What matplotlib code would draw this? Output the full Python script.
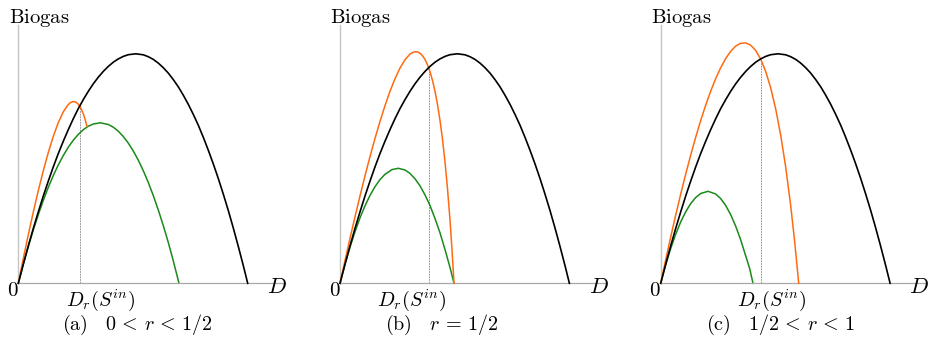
import matplotlib
matplotlib.use('Agg')
import matplotlib.pyplot as plt

plt.rcParams['mathtext.fontset'] = 'cm'

# black curve (same in all three panels)
black_D = [0, .05, .10, .15, .20, .25, .30, .35, .40, .45, .50, .55, .60, .65, .70, .75, .80, .85,
           .90, .95, 1.00, 1.05, 1.10, 1.175, 1.25, 1.30, 1.35, 1.40, 1.45, 1.50, 1.55, 1.60, 1.65,
           1.70, 1.75, 1.80, 1.85, 1.90, 1.95, 2.00, 2.05, 2.10, 2.15, 2.20, 2.25, 2.294]
black_G = [0, .191, .374, .549, .714, .873, 1.022, 1.164, 1.298, 1.421, 1.537, 1.646, 1.747, 1.837,
           1.920, 1.995, 2.061, 2.119, 2.169, 2.211, 2.244, 2.269, 2.286, 2.295, 2.285, 2.266, 2.239,
           2.202, 2.156, 2.102, 2.037, 1.965, 1.881, 1.790, 1.689, 1.581, 1.460, 1.331, 1.194,
           1.048, .892, .728, .553, .369, .177, 0]

# panel (a)
orange_a_D = [0, .05, .10, .15, .20, .25, .30, .35, .40, .45, .50, .525, .55, .575, .60, .625,
              .65, .67, .687]
orange_a_G = [0, .248, .486, .713, .927, 1.126, 1.308, 1.470, 1.607, 1.715, 1.788, 1.809, 1.817,
              1.812, 1.791, 1.753, 1.695, 1.633, 1.568]
green_a_D = [0, .05, .10, .15, .20, .25, .30, .35, .40, .45, .50, .55, .60, .65, .70, .75, .82,
             .90, .95, 1.00, 1.05, 1.10, 1.15, 1.20, 1.25, 1.30, 1.35, 1.40, 1.45, 1.50, 1.55, 1.607]
green_a_G = [0, .190, .368, .534, .687, .829, .960, 1.078, 1.184, 1.278, 1.361, 1.431, 1.489,
             1.536, 1.571, 1.593, 1.605, 1.588, 1.561, 1.521, 1.468, 1.402, 1.323, 1.231, 1.126,
             1.008, .877, .733, .577, .408, .224, 0]

# panel (b)
orange_b_D = [0, .05, .10, .15, .20, .25, .30, .35, .40, .45, .50, .55, .60, .65, .70, .725, .75,
              .775, .80, .825, .85, .875, .90, .925, .95, .975, 1.00, 1.025, 1.05, 1.075, 1.10,
              1.12, 1.14]
orange_b_G = [0, .228, .450, .665, .874, 1.075, 1.267, 1.448, 1.619, 1.777, 1.920, 2.046, 2.153,
              2.236, 2.292, 2.308, 2.316, 2.314, 2.301, 2.276, 2.238, 2.185, 2.116, 2.029, 1.920,
              1.788, 1.629, 1.440, 1.213, .946, .631, .336, 0]
green_b_D = [0, .05, .10, .15, .20, .25, .30, .35, .40, .45, .52, .583, .65, .70, .75, .80, .85,
             .90, .95, 1.00, 1.05, 1.10, 1.14]
green_b_G = [0, .189, .361, .516, .654, .775, .879, .966, 1.037, 1.090, 1.137, 1.150, 1.133, 1.099,
             1.045, .975, .884, .778, .648, .505, .338, .159, 0]

# panel (c)
orange_c_D = [0, .05, .10, .15, .20, .25, .30, .35, .40, .45, .50, .55, .60, .65, .70, .75, .80,
              .85, .90, .95, 1.00, 1.05, 1.10, 1.15, 1.20, 1.25, 1.30, 1.34, 1.38]
orange_c_G = [0, .235, .463, .682, .892, 1.092, 1.282, 1.461, 1.628, 1.782, 1.922, 2.047, 2.156,
              2.248, 2.320, 2.372, 2.400, 2.404, 2.381, 2.328, 2.242, 2.118, 1.954, 1.743, 1.481,
              1.162, .776, .414, 0]
green_c_D = [0, .025, .05, .10, .15, .20, .25, .30, .35, .40, .473, .55, .60, .65, .70, .75, .80,
             .85, .89, .923]
green_c_G = [0, .095, .184, .348, .491, .614, .715, .797, .858, .898, .920, .893, .847, .778, .686,
             .571, .434, .274, .146, 0]

# D_r(S^in) and the biogas value where orange meets black
dr = [0.615, 0.885, 1.005]
dr_top = [1.775, 2.150, 2.243]

captions = [r'$\mathrm{(a)}\quad 0\,<\,r\,<\,1/2$',
            r'$\mathrm{(b)}\quad r\,=\,1/2$',
            r'$\mathrm{(c)}\quad 1/2\,<\,r\,<\,1$']

orange = [(orange_a_D, orange_a_G), (orange_b_D, orange_b_G), (orange_c_D, orange_c_G)]
green = [(green_a_D, green_a_G), (green_b_D, green_b_G), (green_c_D, green_c_G)]

W, H = 932, 337
x0s = [18.3, 340.0, 660.7]
lab_x = [0.824, 0.713, 1.113]
cap_x = [1.19, 1.017, 1.20]

fig = plt.figure(figsize=(W / 100, H / 100), dpi=100)

for i in range(3):
    ax = fig.add_axes([x0s[i] / W, (H - 283.3) / H, 265 / W, 258 / H])
    ax.set_xlim(0, 2.65)
    ax.set_ylim(0, 2.58)
    ax.set_xticks([])
    ax.set_yticks([])
    ax.patch.set_visible(False)
    for s in ['top', 'right']:
        ax.spines[s].set_visible(False)
    ax.spines['left'].set_color('#c4c4c4')
    ax.spines['left'].set_linewidth(1.0)
    ax.spines['bottom'].set_color('#a8a8a8')
    ax.spines['bottom'].set_linewidth(0.9)

    ax.plot([dr[i], dr[i]], [0, dr_top[i]], color='#808080', lw=0.6,
            dashes=(2, 1.2), zorder=1)
    ax.plot(*green[i], color='#1a8a1a', lw=1.1, zorder=2, clip_on=False)
    ax.plot(*orange[i], color='#ff6a10', lw=1.1, zorder=3, clip_on=False)
    ax.plot(black_D, black_G, color='black', lw=1.2, zorder=4, clip_on=False)

    ax.text(-0.095, 2.60, r'$\mathrm{Biogas}$', fontsize=14.8, ha='left', va='baseline')
    ax.text(-0.056, -0.07, r'$0$', fontsize=15, ha='center', va='center')
    ax.text(2.585, -0.035, r'$D$', fontsize=16, ha='center', va='center')
    ax.text(lab_x[i], -0.17, r'$D_r(S^{in})$', fontsize=14.5, ha='center', va='center')
    ax.text(cap_x[i], -0.42, captions[i], fontsize=14.5, ha='center', va='center')

fig.savefig('out.png', dpi=100)
